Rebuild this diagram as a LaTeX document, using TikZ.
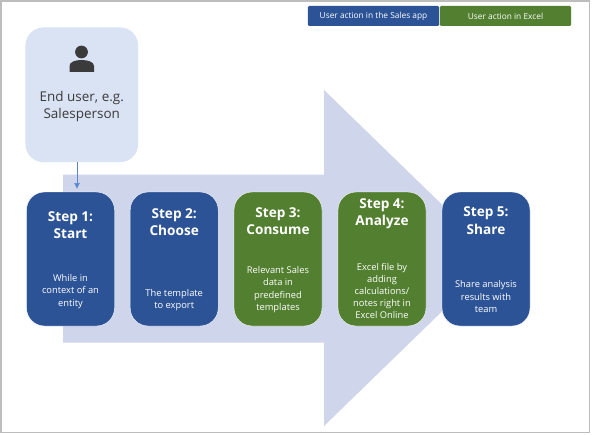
\documentclass[tikz,border=0pt]{standalone}
\usepackage{fontspec}
\usetikzlibrary{arrows.meta}
\setmainfont{Open Sans}
\definecolor{stepblue}{HTML}{2C5395}
\definecolor{stepgreen}{HTML}{527F30}
\definecolor{arrowfill}{HTML}{CFD5EA}
\definecolor{userfill}{HTML}{DAE3F3}
\definecolor{frameline}{HTML}{BDBDBD}
\definecolor{usertext}{HTML}{3A3A3A}
\definecolor{iconfill}{HTML}{3B3B3B}
\definecolor{connector}{HTML}{5B86D0}
\tikzset{
  x=0.75pt,y=-0.75pt,
  stepbox/.style={rounded corners=13.5,minimum width=66pt,minimum height=100.5pt,inner sep=0pt,draw=white,line width=0.3pt},
  bluebox/.style={stepbox,fill=stepblue},
  greenbox/.style={stepbox,fill=stepgreen},
  legendbox/.style={minimum width=98.5pt,minimum height=15pt,inner sep=0pt,text=white,font=\fontsize{6.25}{7.5}\selectfont},
  steptitle/.style={text=white,align=center,inner sep=0pt,font=\fontsize{10.2}{13}\selectfont\bfseries},
  stepnote/.style={text=white,align=center,inner sep=0pt,font=\fontsize{7}{9.15}\selectfont},
}
\begin{document}
\begin{tikzpicture}
\useasboundingbox (0,0) rectangle (592,435);
\fill[white] (0,0) rectangle (592,435);
\draw[frameline,line width=0.8pt] (1,1) rectangle (589.5,432.5);
\fill[arrowfill] (63,174.5) -- (324,174.5) -- (324,90) -- (497,258) -- (324,426) -- (324,342.5) -- (63,342.5) -- cycle;
\node[rounded corners=13.5,fill=userfill,minimum width=84.5pt,minimum height=101pt,inner sep=0pt] (user) at (81.8,94.8) {};
\fill[iconfill] (81.5,52) circle (6.4);
\fill[iconfill] (69.5,72) -- (69.5,66) .. controls (69.5,62) and (75,60) .. (81.5,60) .. controls (88,60) and (94,62) .. (94,66) -- (94,72) -- cycle;
\node[text=usertext,align=center,inner sep=0pt,font=\fontsize{10.1}{12.75}\selectfont] (usertext) at (81.8,106.5) {End user, e.g.\\Salesperson};
\node[legendbox,fill=stepblue,rounded corners=1] (legA) at (373.5,16) {User action in the Sales app};
\node[legendbox,fill=stepgreen,rounded corners=1] (legB) at (505.5,16) {User action in Excel};
\node[bluebox] (s1) at (70.5,259) {};
\node[bluebox] (s2) at (174.2,259) {};
\node[greenbox] (s3) at (278,259) {};
\node[greenbox] (s4) at (382,259) {};
\node[bluebox] (s5) at (486,259) {};
\coordinate (entry) at (77,189);
\draw[connector,line width=0.5pt,-{Latex[length=4.5pt,width=4.5pt]}] (user.south -| entry) -- (entry);
\node[steptitle] (t1) at (70.5,225) {Step 1:\\Start};
\node[steptitle] (t2) at (174.2,222) {Step 2:\\Choose};
\node[steptitle] (t3) at (278,221) {Step 3:\\Consume};
\node[steptitle] (t4) at (382,213.5) {Step 4:\\Analyze};
\node[steptitle] (t5) at (486,220.5) {Step 5:\\Share};
\node[stepnote] (n1) at (70.5,291.5) {While in\\context of an\\entity};
\node[stepnote] (n2) at (174.2,300) {The template\\to export};
\node[stepnote] (n3) at (278,289.5) {Relevant Sales\\data in\\predefined\\templates};
\node[stepnote] (n4) at (382,291) {Excel file by\\adding\\calculations/\\notes right in\\Excel Online};
\node[stepnote] (n5) at (486,296.5) {Share analysis\\results with\\team};
\end{tikzpicture}
\end{document}
